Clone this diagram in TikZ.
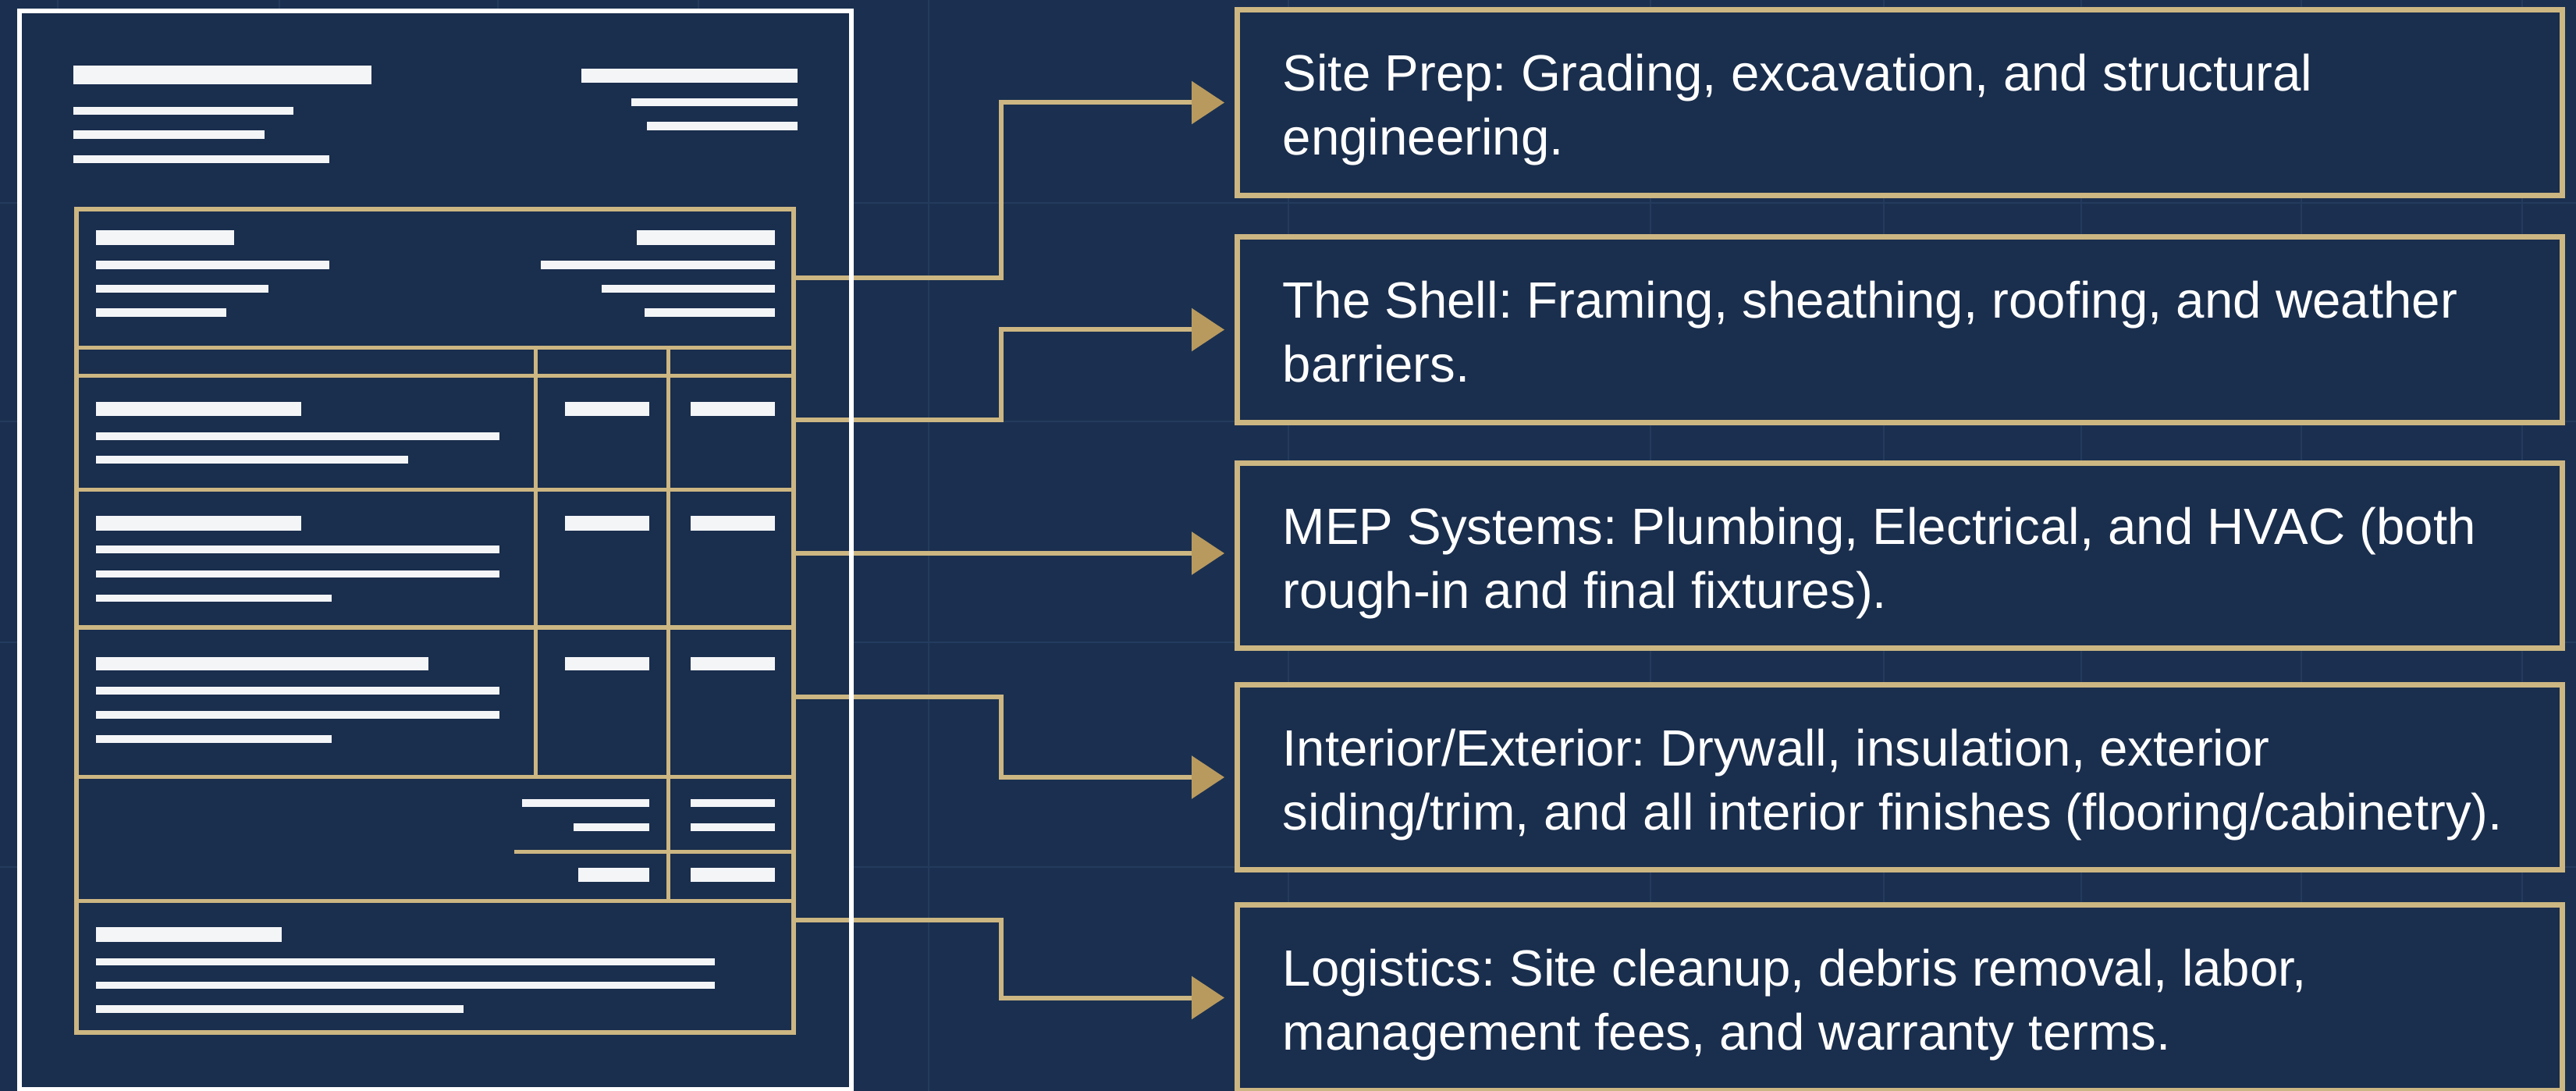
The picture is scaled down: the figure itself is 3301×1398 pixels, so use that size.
\documentclass[tikz,border=0pt]{standalone}
\usepackage{fontspec}
\setmainfont{Liberation Sans}
\usetikzlibrary{arrows.meta}
\definecolor{bg}{HTML}{1B3050}
\definecolor{docbg}{HTML}{1A2E4D}
\definecolor{gridc}{HTML}{243B5E}
\definecolor{gold}{HTML}{CCB682}
\definecolor{goldtip}{HTML}{B99A5E}
\definecolor{barw}{HTML}{F3F5F7}
\frenchspacing
\begin{document}
\begin{tikzpicture}[x=0.01cm,y=-0.01cm,
  gridline/.style={draw=gridc, line width=0.7pt},
  bar/.style={fill=barw},
  goldline/.style={draw=gold, line width=0.05cm},
  tblframe/.style={draw=gold, line width=0.06cm, inner sep=0pt},
  stepbox/.style={draw=gold, line width=0.07cm, fill=docbg, minimum width=16.97cm, minimum height=2.37cm, inner sep=0pt},
  conn/.style={draw=gold, line width=0.06cm, -{Triangle[length=0.42cm,width=0.54cm,color=goldtip]}, shorten >=0.13cm},
  lbl/.style={text=white, font=\fontsize{18.6pt}{23.3pt}\selectfont, align=left, anchor=west, inner sep=0pt}]
\useasboundingbox (0,0) rectangle (3301,1398);
\fill[bg] (0,0) rectangle (3301,1398);
% faint grid
\foreach \gx in {74,358,638,895,1190,1651,2115,2414,2667,2949,3232}
  \draw[gridline] (\gx,0) -- (\gx,1398);
\foreach \gy in {260,540,823,1111}
  \draw[gridline] (0,\gy) -- (3301,\gy);
% document sheet
\node[fill=docbg, minimum width=10.64cm, minimum height=13.80cm, inner sep=0pt] (doc) at (558,705) {};
% header bars
\fill[bar] (94,84) rectangle (476,108);
\fill[bar] (94,137) rectangle (376,147);
\fill[bar] (94,167) rectangle (339,178);
\fill[bar] (94,199) rectangle (422,209);
\fill[bar] (745,88) rectangle (1022,106);
\fill[bar] (809,126) rectangle (1022,136);
\fill[bar] (829,156) rectangle (1022,167);
% table frame
\node[tblframe, minimum width=9.19cm, minimum height=10.55cm] (tbl) at (557.5,795.5) {};
\foreach \hy in {446,482,628,804,995,1154}
  \draw[goldline] (98,\hy) -- (1017,\hy);
\draw[goldline] (686,446) -- (686,995);
\draw[goldline] (856,446) -- (856,1154);
\draw[goldline] (659,1091) -- (1017,1091);
% section 1
\fill[bar] (123,295) rectangle (300,314);
\fill[bar] (123,334) rectangle (422,345);
\fill[bar] (123,365) rectangle (344,375);
\fill[bar] (123,395) rectangle (290,406);
\fill[bar] (816,295) rectangle (993,314);
\fill[bar] (693,334) rectangle (993,345);
\fill[bar] (771,365) rectangle (993,375);
\fill[bar] (826,395) rectangle (993,406);
% row 1
\fill[bar] (123,515) rectangle (386,533);
\fill[bar] (123,554) rectangle (640,564);
\fill[bar] (123,584) rectangle (523,594);
\fill[bar] (724,515) rectangle (832,533);
\fill[bar] (885,515) rectangle (993,533);
% row 2
\fill[bar] (123,661) rectangle (386,680);
\fill[bar] (123,699) rectangle (640,709);
\fill[bar] (123,731) rectangle (640,740);
\fill[bar] (123,762) rectangle (425,771);
\fill[bar] (724,661) rectangle (832,680);
\fill[bar] (885,661) rectangle (993,680);
% row 3
\fill[bar] (123,842) rectangle (549,859);
\fill[bar] (123,880) rectangle (640,890);
\fill[bar] (123,911) rectangle (640,921);
\fill[bar] (123,942) rectangle (425,952);
\fill[bar] (724,842) rectangle (832,859);
\fill[bar] (885,842) rectangle (993,859);
% totals
\fill[bar] (669,1024) rectangle (832,1034);
\fill[bar] (885,1024) rectangle (993,1034);
\fill[bar] (735,1055) rectangle (832,1065);
\fill[bar] (885,1055) rectangle (993,1065);
\fill[bar] (741,1112) rectangle (832,1130);
\fill[bar] (885,1112) rectangle (993,1130);
% footer
\fill[bar] (123,1188) rectangle (361,1207);
\fill[bar] (123,1228) rectangle (916,1237);
\fill[bar] (123,1258) rectangle (916,1267);
\fill[bar] (123,1288) rectangle (594,1298);
% boxes
\node[stepbox] (b1) at (2434.5,131.5) {};
\node[stepbox] (b2) at (2434.5,422.5) {};
\node[stepbox] (b3) at (2434.5,712) {};
\node[stepbox] (b4) at (2434.5,996) {};
\node[stepbox] (b5) at (2434.5,1278.5) {};
\node[lbl] (t1) at ([xshift=0.61cm,yshift=-0.10cm]b1.west) {\strut Site Prep: Grading, excavation, and structural\\\strut engineering.};
\node[lbl] (t2) at ([xshift=0.61cm,yshift=-0.10cm]b2.west) {\strut The Shell: Framing, sheathing, roofing, and weather\\\strut barriers.};
\node[lbl] (t3) at ([xshift=0.61cm,yshift=-0.10cm]b3.west) {\strut MEP Systems: Plumbing, Electrical, and HVAC (both\\\strut rough-in and final fixtures).};
\node[lbl] (t4) at ([xshift=0.61cm,yshift=-0.10cm]b4.west) {\strut Interior/Exterior: Drywall, insulation, exterior\\\strut siding/trim, and all interior finishes (flooring/cabinetry).};
\node[lbl] (t5) at ([xshift=0.61cm,yshift=-0.10cm]b5.west) {\strut Logistics: Site cleanup, debris removal, labor,\\\strut management fees, and warranty terms.};
% connectors
\coordinate (s1) at (1017,356);
\coordinate (s2) at (1017,538);
\coordinate (s3) at (1017,709);
\coordinate (s4) at (1017,893);
\coordinate (s5) at (1017,1179);
\draw[conn] (s1) -- (1283,356) |- (b1.west);
\draw[conn] (s2) -- (1283,538) |- (b2.west);
\draw[conn] (s3) -- (s3 -| b3.west);
\draw[conn] (s4) -- (1283,893) |- (b4.west);
\draw[conn] (s5) -- (1283,1179) |- (b5.west);
% document border on top
\draw[white, line width=0.06cm] (doc.north west) rectangle (doc.south east);
\end{tikzpicture}
\end{document}
